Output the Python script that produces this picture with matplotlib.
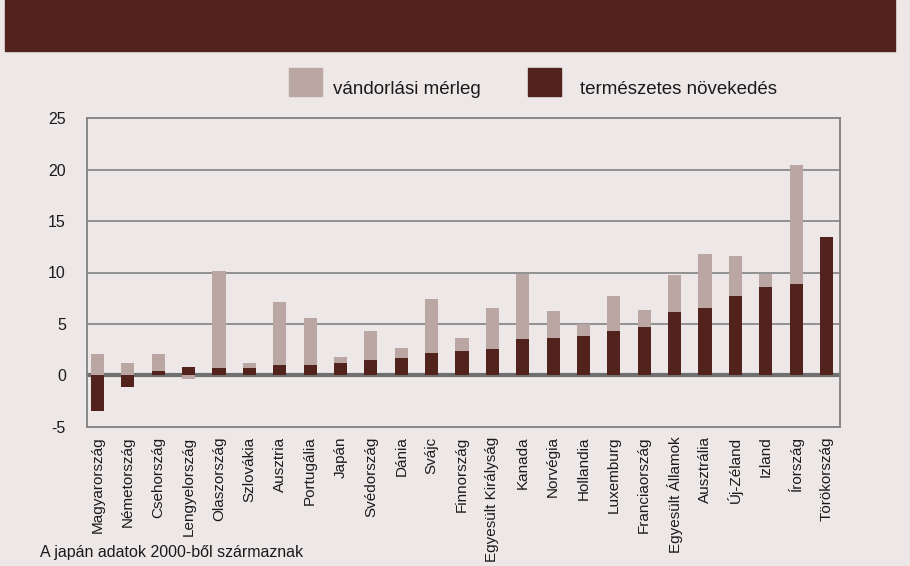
import matplotlib
matplotlib.use("Agg")
import matplotlib.pyplot as plt
from matplotlib.patches import Rectangle

# Components of population growth per 1000 inhabitants
countries = [
    "Magyarország", "Németország", "Csehország", "Lengyelország", "Olaszország",
    "Szlovákia", "Ausztria", "Portugália", "Japán", "Svédország", "Dánia", "Svájc",
    "Finnország", "Egyesült Királyság", "Kanada", "Norvégia", "Hollandia",
    "Luxemburg", "Franciaország", "Egyesült Államok", "Ausztrália", "Új-Zéland",
    "Izland", "Írország", "Törökország",
]
natural_increase = [
    -3.5, -1.1, 0.4, 0.8, 0.7, 0.7, 1.0, 1.0, 1.2, 1.5, 1.7, 2.2,
    2.4, 2.6, 3.5, 3.6, 3.8, 4.3, 4.7, 6.2, 6.5, 7.7, 8.6, 8.9, 13.5,
]
net_migration = [
    2.1, 1.2, 1.7, -0.4, 9.4, 0.5, 6.1, 4.6, 0.55, 2.8, 1.0, 5.2,
    1.2, 3.9, 6.4, 2.7, 1.2, 3.4, 1.7, 3.6, 5.3, 3.9, 1.3, 11.6, 0.0,
]
y_ticks = [-5, 0, 5, 10, 15, 20, 25]

series_labels = ["vándorlási mérleg", "természetes növekedés"]
footnote = "A japán adatok 2000-ből származnak"

BG = "#EDE8E7"
DARK = "#52231D"
LIGHT = "#BAA7A3"
GRID = "#8A8A8A"
TEXT = "#1A1A1A"

plt.rcParams["font.family"] = ["Liberation Sans", "DejaVu Sans"]

W, H = 910, 566
fig = plt.figure(figsize=(W / 100, H / 100), dpi=100, facecolor=BG)

# header band
fig.patches.append(Rectangle((5 / W, 1 - 51 / H), 890 / W, 51 / H,
                             transform=fig.transFigure, color=DARK, zorder=0))

ax = fig.add_axes([86.7 / W, 1 - 426.7 / H, (840 - 86.7) / W, (426.7 - 118.3) / H])
ax.set_facecolor(BG)

x = list(range(len(countries)))
bar_w = 0.43

# stack positive parts upward and negative parts downward from zero
pos_base = [0.0] * len(x)
neg_base = [0.0] * len(x)
for values, color in ((natural_increase, DARK), (net_migration, LIGHT)):
    bottoms = []
    for i, v in enumerate(values):
        if v >= 0:
            bottoms.append(pos_base[i])
            pos_base[i] += v
        else:
            bottoms.append(neg_base[i])
            neg_base[i] += v
    ax.bar(x, values, bottom=bottoms, width=bar_w, color=color, zorder=3,
           linewidth=0)

ax.set_xlim(-0.356, 24.445)
ax.set_ylim(-5, 25)
ax.set_yticks(y_ticks)
ax.set_yticklabels([str(t) for t in y_ticks], fontsize=11.5, color=TEXT)
ax.set_xticks(x)
ax.set_xticklabels(countries, rotation=90, fontsize=11, color=TEXT)
ax.tick_params(axis="x", length=0, pad=7)
ax.tick_params(axis="y", length=0, pad=15)
for lbl in ax.get_yticklabels():
    lbl.set_horizontalalignment("right")

for t in y_ticks[2:-1]:
    ax.axhline(t, color=GRID, lw=1.3, zorder=1)
ax.axhline(0, color="#707070", lw=3, zorder=2)

for side in ("left", "right", "top", "bottom"):
    ax.spines[side].set_color("#808080")
    ax.spines[side].set_linewidth(1.3)

# legend
fig.patches.append(Rectangle((289 / W, 1 - 95.7 / H), 32.7 / W, 27.4 / H,
                             transform=fig.transFigure, color=LIGHT))
fig.patches.append(Rectangle((528 / W, 1 - 95.7 / H), 32.7 / W, 27.4 / H,
                             transform=fig.transFigure, color=DARK))
fig.text(333 / W, 1 - 94 / H, series_labels[0], fontsize=13.5, color=TEXT,
         va="baseline", ha="left")
fig.text(580 / W, 1 - 94 / H, series_labels[1], fontsize=13.5, color=TEXT,
         va="baseline", ha="left")

fig.text(40 / W, 1 - 552 / H, footnote, fontsize=11.5, color=TEXT,
         va="center", ha="left")

fig.savefig("out.png", dpi=100, facecolor=BG)
